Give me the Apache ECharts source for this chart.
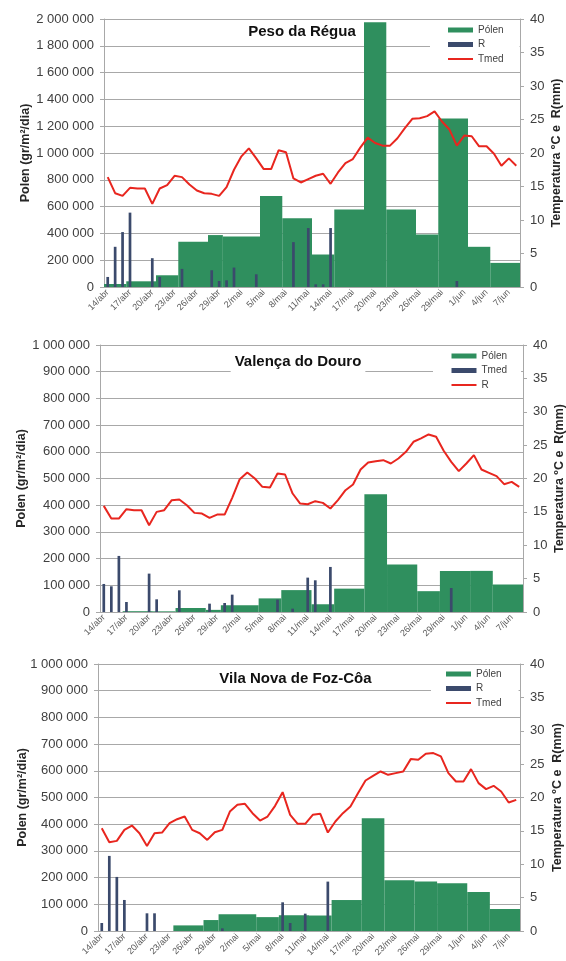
<!DOCTYPE html>
<html><head><meta charset="utf-8">
<script src="https://cdn.jsdelivr.net/npm/echarts@6/dist/echarts.min.js"></script>
<style>
html,body{margin:0;padding:0;background:#fff;width:566px;height:961px;overflow:hidden}
.c{position:absolute;left:0;width:566px}
</style></head>
<body>
<div id="c1" class="c" style="top:0;height:320px"></div>
<div id="c2" class="c" style="top:320px;height:320px"></div>
<div id="c3" class="c" style="top:640px;height:321px"></div>
<script>
// ---- DATA ----
const days = ['14/abr','15/abr','16/abr','17/abr','18/abr','19/abr','20/abr','21/abr','22/abr','23/abr','24/abr','25/abr','26/abr','27/abr','28/abr','29/abr','30/abr',
'1/mai','2/mai','3/mai','4/mai','5/mai','6/mai','7/mai','8/mai','9/mai','10/mai','11/mai','12/mai','13/mai','14/mai','15/mai','16/mai','17/mai','18/mai','19/mai','20/mai','21/mai','22/mai','23/mai','24/mai','25/mai','26/mai','27/mai','28/mai','29/mai','30/mai','31/mai',
'1/jun','2/jun','3/jun','4/jun','5/jun','6/jun','7/jun','8/jun'];

// pollen sampling periods (start dates); each period lasts until the next start
const periodStarts = ['14/abr','17/abr','21/abr','24/abr','28/abr','30/abr','5/mai','8/mai','12/mai','15/mai','19/mai','22/mai','26/mai','29/mai','2/jun','5/jun'];
const periodEnd = '8/jun';

const pollenRegua = [22500,42500,87500,337500,387500,377500,680000,512500,242500,577500,1975000,577500,392500,1257500,300000,180000];
const pollenValenca = [0,3000,2500,15000,8000,25000,51000,82000,29000,87500,441000,178000,78000,154000,154000,103000];
const pollenFozCoa = [0,0,0,21000,41000,62500,52000,59000,58000,116000,422000,190000,185000,179000,146000,82500];

const rainRegua = [1.5,6.0,8.2,11.1,0,0,4.3,1.5,0,0,2.7,0,0,0,2.5,0.9,1.0,2.9,0,0,1.9,0,0,0,0,6.7,0,8.8,0.4,0.4,8.8,0,0,0,0,0,0,0,0,0,0,0,0,0,0,0,0,0.9,0,0,0,0,0,0,0,0];
const rainValenca = [4.2,3.85,8.4,1.5,0,0,5.75,1.9,0,0,3.25,0,0,0,1.25,0,1.35,2.6,0,0,0,0,0,1.85,0,0.5,0,5.15,4.75,0,6.75,0,0,0,0,0,0,0,0,0,0,0,0,0,0,0,3.6,0,0,0,0,0,0,0,0,0];
const rainFozCoa = [1.2,11.25,8.1,4.65,0,0,2.65,2.65,0,0,0,0,0,0,0,0,0.4,0,0,0,0,0,0,0,4.3,1.2,0,2.6,0,0,7.4,0,0,0,0,0,0,0,0,0,0,0,0,0,0,0,0,0,0,0,0,0,0,0,0,0];

const tmedRegua = [16.4,14.0,13.6,14.8,14.7,14.7,12.4,14.7,15.2,16.6,16.4,15.3,14.4,14.0,13.9,13.6,14.9,17.5,19.5,20.7,19.2,17.6,17.6,20.4,20.1,16.2,15.6,16.1,16.6,16.9,15.4,17.1,18.5,19.1,20.8,22.3,21.5,21.1,21.1,22.2,23.7,25.1,25.2,25.5,26.2,24.7,23.5,21.1,22.6,22.5,21.0,21.0,19.9,18.1,19.2,18.1];
const tmedValenca = [15.9,14.0,14.0,15.4,15.25,15.25,13.0,15.0,15.25,16.75,16.85,16.0,14.85,14.75,14.1,14.6,14.6,17.1,19.9,20.9,20.0,18.75,18.65,20.75,20.6,17.75,16.25,16.15,16.6,16.35,15.5,16.75,18.25,19.1,21.35,22.4,22.6,22.75,22.25,23.0,24.0,25.5,26.0,26.6,26.25,24.15,22.5,21.1,22.25,23.5,21.35,20.85,20.35,19.15,19.5,18.75];
const tmedFozCoa = [15.4,13.3,13.5,15.15,15.8,14.65,12.75,14.65,14.75,16.15,16.75,17.15,15.15,14.65,13.65,14.8,15.15,17.9,18.9,19.05,17.65,16.55,17.15,18.75,20.8,17.4,16.05,16.05,17.4,17.55,14.75,16.4,17.65,18.65,20.65,22.55,23.25,23.9,23.4,23.65,23.9,25.75,25.65,26.55,26.65,26.15,23.65,22.4,22.4,24.25,22.15,21.25,21.75,20.9,19.25,19.65];

const titles = ['Peso da Régua','Valença do Douro','Vila Nova de Foz-Côa'];
const leftAxisMax = [2000000, 1000000, 1000000];
const leftAxisStep = [200000, 100000, 100000];
const rightAxisMax = 40, rightAxisStep = 5;
const leftName = 'Polen (gr/m\u00B2/dia)';
const rightName = 'Temperatura \u00BAC e  R(mm)';

// ---- STYLE ----
const GREEN = '#2f8f5e', NAVY = '#3b4a6c', RED = '#e8261f', GRID = '#a8a8a8';
const FONT = 'Liberation Sans, Arial, sans-serif';
const LINE_ICON = 'path://M0,0H25V2H0Z';

function fmt(v){ return String(v).replace(/\B(?=(\d{3})+(?!\d))/g, ' '); }

function periods(values){
  return values.map((v,i)=>{
    const s = days.indexOf(periodStarts[i]);
    const e = i+1 < periodStarts.length ? days.indexOf(periodStarts[i+1]) : days.indexOf(periodEnd)+1;
    return [s, e, v];
  });
}

function build(cfg){
  return {
    animation:false,
    textStyle:{fontFamily:FONT},
    title:{text:cfg.title, left:cfg.titlePos[0], top:cfg.titlePos[1], textAlign:'center', textVerticalAlign:'middle',
      padding:cfg.titlePad, backgroundColor:cfg.titleBg,
      textStyle:{fontSize:15, fontWeight:'bold', color:'#111', fontFamily:FONT}},
    legend:{orient:'vertical', left:cfg.legend[0], top:cfg.legend[1], padding:cfg.legendPad,
      backgroundColor:'#fff', itemWidth:25, itemHeight:5, itemGap:2.5, symbolKeepAspect:true,
      textStyle:{fontSize:10, lineHeight:12, color:'#404040', fontFamily:FONT},
      data:[{name:'Pólen', icon:'rect'},{name:cfg.barName, icon:'rect'},{name:cfg.lineName, icon:LINE_ICON}]},
    grid:{left:cfg.grid[0], top:cfg.grid[1], width:cfg.grid[2], height:cfg.grid[3], containLabel:false, outerBoundsMode:'none'},
    xAxis:{type:'category', data:days, boundaryGap:true,
      axisLine:{lineStyle:{color:GRID}}, axisTick:{show:false},
      axisLabel:{interval:2, rotate:45, fontSize:9, color:'#595959', margin:4, fontFamily:FONT}},
    yAxis:[
      {type:'value', min:0, max:cfg.leftMax, interval:cfg.leftStep, position:'left',
       axisLine:{show:true, lineStyle:{color:GRID}}, axisTick:{show:true, length:4, lineStyle:{color:GRID}},
       splitLine:{show:true, lineStyle:{color:GRID, width:1}},
       axisLabel:{formatter:fmt, color:'#404040', fontSize:13, margin:10, fontFamily:FONT},
       name:leftName, nameLocation:'middle', nameGap:cfg.leftGap, nameMoveOverlap:false,
       nameTextStyle:{fontWeight:'bold', fontSize:12.5, color:'#262626', fontFamily:FONT}},
      {type:'value', min:0, max:rightAxisMax, interval:rightAxisStep, position:'right',
       axisLine:{show:true, lineStyle:{color:GRID}}, axisTick:{show:true, length:4, lineStyle:{color:GRID}},
       splitLine:{show:false},
       axisLabel:{color:'#404040', fontSize:13, margin:10, fontFamily:FONT},
       name:rightName, nameLocation:'middle', nameGap:cfg.rightGap, nameMoveOverlap:false,
       nameTextStyle:{fontWeight:'bold', fontSize:12.5, color:'#262626', fontFamily:FONT}}
    ],
    series:[
      {name:'Pólen', type:'custom', yAxisIndex:0, itemStyle:{color:GREEN},
       encode:{x:[0,1], y:2},
       data:periods(cfg.pollen),
       renderItem:function(params, api){
         const s = api.value(0), e = api.value(1), v = api.value(2);
         const bw = api.size([1,0])[0];
         const p0 = api.coord([s, v]);
         const p1 = api.coord([e-1, 0]);
         const x0 = p0[0]-bw/2, x1 = p1[0]+bw/2;
         return {type:'rect', shape:{x:x0, y:p0[1], width:x1-x0, height:p1[1]-p0[1]}, style:{fill:GREEN}};
       }},
      {name:cfg.barName, type:'bar', yAxisIndex:1, barWidth:2.7, itemStyle:{color:NAVY}, data:cfg.rain, z:3},
      {name:cfg.lineName, type:'line', yAxisIndex:1, symbol:'none', lineStyle:{color:RED, width:2}, itemStyle:{color:RED}, data:cfg.tmed, z:4}
    ]
  };
}

const cfgs = [
  {el:'c1', title:titles[0], titlePos:[302,32], titlePad:0, titleBg:'transparent',
   legend:[430,22], legendPad:[2,16,2,18], grid:[104,19,416,268], leftMax:leftAxisMax[0], leftStep:leftAxisStep[0],
   leftGap:72, rightGap:30, barName:'R', lineName:'Tmed', pollen:pollenRegua, rain:rainRegua, tmed:tmedRegua},
  {el:'c2', title:titles[1], titlePos:[294,39], titlePad:[3,4,4,4], titleBg:'#fff',
   legend:[433,28], legendPad:[2,14,2,18.5], grid:[100,25,423,267], leftMax:leftAxisMax[1], leftStep:leftAxisStep[1],
   leftGap:72, rightGap:30, barName:'Tmed', lineName:'R', pollen:pollenValenca, rain:rainValenca, tmed:tmedValenca},
  {el:'c3', title:titles[2], titlePos:[295.5,39], titlePad:0, titleBg:'transparent',
   legend:[431,26], legendPad:[2,17,2,15], grid:[98,24,422,267], leftMax:leftAxisMax[2], leftStep:leftAxisStep[2],
   leftGap:69, rightGap:31, barName:'R', lineName:'Tmed', pollen:pollenFozCoa, rain:rainFozCoa, tmed:tmedFozCoa}
];

cfgs.forEach(c=>{
  const chart = echarts.init(document.getElementById(c.el), null, {renderer:'canvas'});
  chart.setOption(build(c));
});
</script>
</body></html>
